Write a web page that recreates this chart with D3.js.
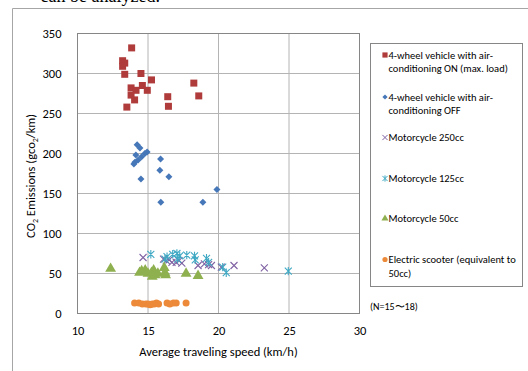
<!DOCTYPE html>
<html>
<head>
<meta charset="utf-8">
<script src="https://cdn.jsdelivr.net/npm/d3@7"></script>
<style>
  body { margin: 0; background: #fff; }
  svg text { font-family: Carlito, Lato, sans-serif; fill: #000; }
</style>
</head>
<body>
<svg id="chart" width="528" height="371"></svg>
<script>
// speed (km/h), CO2 (g/km) pairs
var ac_on = [[13.84,332],[13.2,316],[13.35,313],[13.2,309],[13.35,299],[14.5,300],[15.25,292],[18.25,288],[14.6,285],
    [13.8,282],[14.15,279],[14.95,279],[13.8,273],[14.05,267],[16.4,271],[18.6,272],[13.5,258],[16.45,259]]
var ac_off = [[14.23,211],[14.43,207],[14.94,202],[14.78,200],[14.14,198],[14.55,196],[14.3,192],[14.07,189],[14.0,187],
    [15.89,193],[15.84,179],[16.48,171],[14.5,168],[19.89,155],[15.91,139],[18.89,139]]
var moto250 = [[14.65,70],[16.1,68],[16.3,66],[16.5,67],[16.7,64],[17.0,64],[17.4,63],[17.2,66],[18.55,60],[19.0,62],
    [19.3,61],[19.5,60],[20.2,58],[21.1,60],[23.25,57]]
var moto125 = [[15.2,74],[16.2,68],[16.35,71],[16.75,74],[17.05,75],[17.25,72],[17.1,68],[17.75,73],[18.3,72],[18.35,67],
    [19.15,69],[19.3,64],[20.3,58],[20.55,51],[24.95,53]]
var moto50 = [[12.35,56],[14.4,51],[14.55,53],[14.8,54],[15.0,50],[15.25,51],[15.4,54],[15.5,48],[15.3,46],[15.7,50],
    [16.15,57],[16.2,51],[16.25,48],[17.7,50],[18.55,47]]
var escooter = [[14.05,13],[14.35,13],[14.6,12],[14.85,12],[15.0,12],[15.15,11],[15.3,12],[15.45,12],[15.6,13],[15.75,12],
    [16.35,13],[16.55,12],[16.8,13],[17.0,13],[17.7,13]]

var legend_labels = [
    ["4-wheel vehicle with air-", "conditioning ON (max. load)"],
    ["4-wheel vehicle with air-", "conditioning OFF"],
    ["Motorcycle 250cc"],
    ["Motorcycle 125cc"],
    ["Motorcycle 50cc"],
    ["Electric scooter (equivalent to", "50cc)"]
]
var x_ticks = [10, 15, 20, 25, 30]
var y_ticks = [0, 50, 100, 150, 200, 250, 300, 350]

var series = [
    {data: ac_on, shape: "square", color: "#b03b3b"},
    {data: ac_off, shape: "diamond", color: "#4677b8"},
    {data: moto250, shape: "x", color: "#7f62a3"},
    {data: moto125, shape: "asterisk", color: "#3fa9c4"},
    {data: moto50, shape: "triangle", color: "#8fb04f"},
    {data: escooter, shape: "circle", color: "#ec8a3a"}
]

function marker_path(shape, r) {
    if (shape == "square") return d3.symbol(d3.symbolSquare, r * r * 4)()
    if (shape == "diamond") return "M0," + (-r) + "L" + r + ",0L0," + r + "L" + (-r) + ",0Z"
    if (shape == "triangle") return d3.symbol(d3.symbolTriangle, r * r * 3.2)()
    if (shape == "circle") return d3.symbol(d3.symbolCircle, Math.PI * r * r)()
    var p = "M" + (-r) + "," + (-r) + "L" + r + "," + r + "M" + (-r) + "," + r + "L" + r + "," + (-r)
    if (shape == "asterisk") p += "M0," + (-r * 1.2) + "L0," + (r * 1.2)
    return p
}
function is_stroke(shape) { return shape == "x" || shape == "asterisk" }

var svg = d3.select("#chart")

// text of the page above the figure, mostly cut off
svg.append("text").attr("x", 160).attr("y", 2).attr("text-anchor", "end")
    .style("font-family", "'Liberation Serif', serif").style("font-size", "18px")
    .text("can be analyzed.")

// outer frame
svg.append("path").attr("d", "M12.5,371V8.5H528").attr("fill", "none").attr("stroke", "#a6a6a6")

var x = d3.scaleLinear().domain([10, 30]).range([77.5, 359.5])
var y = d3.scaleLinear().domain([0, 350]).range([313.5, 33.5])

var g = svg.append("g")

g.selectAll(".vgrid").data(x_ticks.slice(1, -1)).enter().append("line")
    .attr("x1", function(d) { return x(d) }).attr("x2", function(d) { return x(d) })
    .attr("y1", y(0)).attr("y2", y(350))
    .attr("stroke", "#b4b4b4")
g.selectAll(".hgrid").data(y_ticks.slice(1, -1)).enter().append("line")
    .attr("y1", function(d) { return y(d) }).attr("y2", function(d) { return y(d) })
    .attr("x1", x(10)).attr("x2", x(30))
    .attr("stroke", "#b4b4b4")
g.append("rect").attr("x", x(10)).attr("y", y(350))
    .attr("width", x(30) - x(10)).attr("height", y(0) - y(350))
    .attr("fill", "none").attr("stroke", "#868686")

// tick labels
var xa = g.append("g").attr("transform", "translate(0," + y(0) + ")")
    .call(d3.axisBottom(x).tickValues(x_ticks).tickSize(0).tickPadding(13))
var ya = g.append("g").attr("transform", "translate(" + x(10) + ",0)")
    .call(d3.axisLeft(y).tickValues(y_ticks).tickSize(0).tickPadding(16))
xa.select(".domain").remove()
ya.select(".domain").remove()
svg.selectAll(".tick text").style("font-size", "12.5px").style("font-family", "Carlito, Lato, sans-serif")

svg.append("text").attr("x", (x(10) + x(30)) / 2).attr("y", 356).attr("text-anchor", "middle")
    .style("font-size", "12.5px").text("Average traveling speed (km/h)")

var yt = svg.append("text").attr("transform", "translate(35," + (y(172)) + ") rotate(-90)")
    .attr("text-anchor", "middle").style("font-size", "12.5px")
yt.append("tspan").text("CO")
yt.append("tspan").attr("dy", 3).style("font-size", "8px").text("2")
yt.append("tspan").attr("dy", -3).text(" Emissions (gco")
yt.append("tspan").attr("dy", 3).style("font-size", "8px").text("2")
yt.append("tspan").attr("dy", -3).text("/km)")

// points
series.forEach(function(s) {
    g.append("g").selectAll("path").data(s.data).enter().append("path")
        .attr("transform", function(d) { return "translate(" + x(d[0]) + "," + y(d[1]) + ")" })
        .attr("d", marker_path(s.shape, s.shape == "triangle" ? 4 : 3.5))
        .attr("fill", is_stroke(s.shape) ? "none" : s.color)
        .attr("stroke", is_stroke(s.shape) ? s.color : "none")
        .attr("stroke-width", 1.1)
})

// legend
var lg = svg.append("g")
lg.append("rect").attr("x", 370.5).attr("y", 43.5).attr("width", 152).attr("height", 243)
    .attr("fill", "#fff").attr("stroke", "#868686")
var entry_y = [55, 97, 137.5, 178.5, 218.5, 259.5]
series.forEach(function(s, i) {
    lg.append("path").attr("transform", "translate(385," + entry_y[i] + ")")
        .attr("d", marker_path(s.shape, 2.6))
        .attr("fill", is_stroke(s.shape) ? "none" : s.color)
        .attr("stroke", is_stroke(s.shape) ? s.color : "none")
    legend_labels[i].forEach(function(t, j) {
        lg.append("text").attr("x", 388.5).attr("y", entry_y[i] + j * 13.5 + 3.8)
            .style("font-size", "10.5px").text(t)
    })
})
svg.append("text").attr("x", 370).attr("y", 309.5).style("font-size", "10px").text("(N=15\u301c18)")
</script>
</body>
</html>
